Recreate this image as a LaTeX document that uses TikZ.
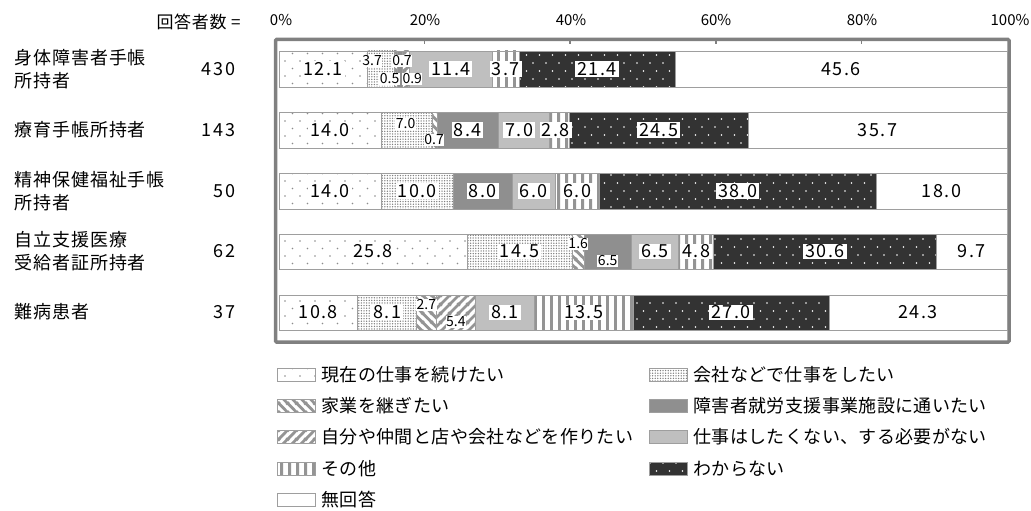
\documentclass[tikz,border=0pt]{standalone}
\usepackage{fontspec}
\setmainfont{Noto Sans CJK JP}
\usetikzlibrary{patterns}

\pgfdeclarepatternformonly{sparsedots}{\pgfqpoint{-1pt}{-1pt}}{\pgfqpoint{9pt}{9pt}}{\pgfqpoint{15pt}{15pt}}{%
  \pgfpathcircle{\pgfqpoint{0pt}{0pt}}{0.8pt}%
  \pgfpathcircle{\pgfqpoint{7.5pt}{7.5pt}}{0.8pt}%
  \pgfusepath{fill}}
\pgfdeclarepatternformonly{darkdots}{\pgfqpoint{-1pt}{-1pt}}{\pgfqpoint{8pt}{9pt}}{\pgfqpoint{13pt}{16pt}}{%
  \pgfpathcircle{\pgfqpoint{0pt}{0pt}}{0.9pt}%
  \pgfpathcircle{\pgfqpoint{6.5pt}{8pt}}{0.9pt}%
  \pgfusepath{fill}}
\pgfdeclarepatternformonly{finedots}{\pgfqpoint{-1pt}{-1pt}}{\pgfqpoint{1pt}{1pt}}{\pgfqpoint{2.6pt}{2.6pt}}{%
  \pgfpathcircle{\pgfqpoint{0pt}{0pt}}{0.75pt}%
  \pgfusepath{fill}}
\pgfdeclarepatternformonly{backstripes}{\pgfqpoint{0pt}{0pt}}{\pgfqpoint{9pt}{9pt}}{\pgfqpoint{9pt}{9pt}}{%
  \pgfsetlinewidth{3pt}%
  \pgfpathmoveto{\pgfqpoint{-1pt}{1pt}}\pgfpathlineto{\pgfqpoint{1pt}{-1pt}}%
  \pgfpathmoveto{\pgfqpoint{-1pt}{10pt}}\pgfpathlineto{\pgfqpoint{10pt}{-1pt}}%
  \pgfpathmoveto{\pgfqpoint{8pt}{10pt}}\pgfpathlineto{\pgfqpoint{10pt}{8pt}}%
  \pgfusepath{stroke}}
\pgfdeclarepatternformonly{slashstripes}{\pgfqpoint{0pt}{0pt}}{\pgfqpoint{9pt}{9pt}}{\pgfqpoint{9pt}{9pt}}{%
  \pgfsetlinewidth{3pt}%
  \pgfpathmoveto{\pgfqpoint{-1pt}{-1pt}}\pgfpathlineto{\pgfqpoint{10pt}{10pt}}%
  \pgfpathmoveto{\pgfqpoint{-1pt}{8pt}}\pgfpathlineto{\pgfqpoint{1pt}{10pt}}%
  \pgfpathmoveto{\pgfqpoint{8pt}{-1pt}}\pgfpathlineto{\pgfqpoint{10pt}{1pt}}%
  \pgfusepath{stroke}}
\pgfdeclarepatternformonly{vstripes}{\pgfqpoint{0pt}{0pt}}{\pgfqpoint{7.5pt}{7.5pt}}{\pgfqpoint{7.5pt}{7.5pt}}{%
  \pgfsetlinewidth{3pt}%
  \pgfpathmoveto{\pgfqpoint{3.75pt}{-1pt}}\pgfpathlineto{\pgfqpoint{3.75pt}{8.5pt}}%
  \pgfusepath{stroke}}

\tikzset{
  seg/.style={draw=black!38, line width=0.6pt},
  keep/.style={seg, preaction={fill=white}, pattern=sparsedots, pattern color=black!45},
  firm/.style={seg, preaction={fill=white}, pattern=finedots, pattern color=black!50},
  family/.style={seg, preaction={fill=white}, pattern=backstripes, pattern color=black!42},
  support/.style={seg, fill=black!44},
  ownshop/.style={seg, preaction={fill=white}, pattern=slashstripes, pattern color=black!42},
  nowork/.style={seg, fill=black!25},
  other/.style={seg, preaction={fill=white}, pattern=vstripes, pattern color=black!42},
  unsure/.style={seg, preaction={fill=black!80}, pattern=darkdots, pattern color=white},
  noans/.style={seg, fill=white},
  val/.style={fill=white, inner xsep=2pt, inner ysep=1pt, font=\fontsize{18}{18}\selectfont\addfontfeature{LetterSpace=8}},
  small/.style={fill=white, inner sep=0.5pt, font=\fontsize{14}{14}\selectfont},
  rowlbl/.style={anchor=west, align=left, font=\fontsize{18}{23}\selectfont\addfontfeature{LetterSpace=5}},
  cnt/.style={anchor=east, font=\fontsize{18}{18}\selectfont\addfontfeature{LetterSpace=10}},
  pct/.style={font=\fontsize{15}{15}\selectfont},
  legtxt/.style={anchor=west, font=\fontsize{18}{18}\selectfont\addfontfeature{LetterSpace=2}},
}

\begin{document}
\begin{tikzpicture}[x=1pt, y=-1pt]
	%%%%% START %%%%%
	\useasboundingbox (0,0) rectangle (1031,511);
	
	\node[anchor=east, font=\fontsize{17}{17}\selectfont\addfontfeature{LetterSpace=4}] (head) at (244,22) {回答者数 =};
	\node[pct] (p0) at (281,20) {0\%};
	\node[pct] (p20) at (425,20) {20\%};
	\node[pct] (p40) at (571,20) {40\%};
	\node[pct] (p60) at (716,20) {60\%};
	\node[pct] (p80) at (862,20) {80\%};
	\node[pct] (p100) at (1010,20) {100\%};
	
	\node[rowlbl] (r1) at (11,69) {身体障害者手帳\\所持者};
	\node[rowlbl] (r2) at (11,130) {療育手帳所持者};
	\node[rowlbl] (r3) at (11,191) {精神保健福祉手帳\\所持者};
	\node[rowlbl] (r4) at (11,251) {自立支援医療\\受給者証所持者};
	\node[rowlbl] (r5) at (11,312) {難病患者};
	\node[cnt] (n1) at (239,69) {430};
	\node[cnt] (n2) at (239,130) {143};
	\node[cnt] (n3) at (239,191) {50};
	\node[cnt] (n4) at (239,251) {62};
	\node[cnt] (n5) at (239,312) {37};
	
	\draw[line width=3.5pt, color=black!50, rounded corners=1pt] (275.5,39.5) rectangle (1009,342);
	\draw[line width=1.5pt, color=black!50] (424.6,41) -- (424.6,44);
	\draw[line width=1.5pt, color=black!50] (570.2,41) -- (570.2,44);
	\draw[line width=1.5pt, color=black!50] (715.8,41) -- (715.8,44);
	\draw[line width=1.5pt, color=black!50] (861.4,41) -- (861.4,44);
	
	\begin{scope}[xshift=279pt, x=7.28pt]
		% 身体障害者手帳所持者
		\draw[keep] (0,51) rectangle (12.1,87);
		\draw[firm] (12.1,51) rectangle (15.8,87);
		\draw[family] (15.8,51) rectangle (16.3,87);
		\draw[support] (16.3,51) rectangle (17.0,87);
		\draw[ownshop] (17.0,51) rectangle (17.9,87);
		\draw[nowork] (17.9,51) rectangle (29.3,87);
		\draw[other] (29.3,51) rectangle (33.0,87);
		\draw[unsure] (33.0,51) rectangle (54.4,87);
		\draw[noans] (54.4,51) rectangle (100,87);
		\node[val] (v11) at (6.05,69) {12.1};
		\node[small] (v12) at (12.8,61) {3.7};
		\node[small] (v13) at (15.2,79) {0.5};
		\node[small] (v14) at (16.9,61) {0.7};
		\node[small] (v15) at (18.3,79) {0.9};
		\node[val] (v16) at (23.6,69) {11.4};
		\node[val] (v17) at (31.15,69) {3.7};
		\node[val] (v18) at (43.7,69) {21.4};
		\node[val] (v19) at (77.2,69) {45.6};
		
		% 療育手帳所持者
		\draw[keep] (0,112) rectangle (14.0,148);
		\draw[firm] (14.0,112) rectangle (21.0,148);
		\draw[family] (21.0,112) rectangle (21.7,148);
		\draw[support] (21.7,112) rectangle (30.1,148);
		\draw[nowork] (30.1,112) rectangle (37.1,148);
		\draw[other] (37.1,112) rectangle (39.9,148);
		\draw[unsure] (39.9,112) rectangle (64.4,148);
		\draw[noans] (64.4,112) rectangle (100,148);
		\node[val] (v21) at (7,130) {14.0};
		\node[small] (v22) at (17.4,124) {7.0};
		\node[small] (v23) at (21.3,140) {0.7};
		\node[val] (v24) at (25.9,130) {8.4};
		\node[val] (v26) at (33.0,130) {7.0};
		\node[val] (v27) at (38.0,130) {2.8};
		\node[val] (v28) at (52.15,130) {24.5};
		\node[val] (v29) at (82.2,130) {35.7};
		
		% 精神保健福祉手帳所持者
		\draw[keep] (0,173) rectangle (14,209);
		\draw[firm] (14,173) rectangle (24,209);
		\draw[support] (24,173) rectangle (32,209);
		\draw[nowork] (32,173) rectangle (38,209);
		\draw[other] (38,173) rectangle (44,209);
		\draw[unsure] (44,173) rectangle (82,209);
		\draw[noans] (82,173) rectangle (100,209);
		\node[val] (v31) at (7,191) {14.0};
		\node[val] (v32) at (19,191) {10.0};
		\node[val] (v34) at (28,191) {8.0};
		\node[val] (v36) at (35,191) {6.0};
		\node[val] (v37) at (41,191) {6.0};
		\node[val] (v38) at (63,191) {38.0};
		\node[val] (v39) at (91,191) {18.0};
		
		% 自立支援医療受給者証所持者
		\draw[keep] (0,234) rectangle (25.8,269);
		\draw[firm] (25.8,234) rectangle (40.3,269);
		\draw[family] (40.3,234) rectangle (41.9,269);
		\draw[support] (41.9,234) rectangle (48.4,269);
		\draw[nowork] (48.4,234) rectangle (54.9,269);
		\draw[other] (54.9,234) rectangle (59.7,269);
		\draw[unsure] (59.7,234) rectangle (90.3,269);
		\draw[noans] (90.3,234) rectangle (100,269);
		\node[val] (v41) at (12.9,251.5) {25.8};
		\node[val] (v42) at (33.05,251.5) {14.5};
		\node[small] (v43) at (41.1,244) {1.6};
		\node[small] (v44) at (45.15,261) {6.5};
		\node[val] (v46) at (51.65,251.5) {6.5};
		\node[val] (v47) at (57.3,251.5) {4.8};
		\node[val] (v48) at (75,251.5) {30.6};
		\node[val] (v49) at (95.15,251.5) {9.7};
		
		% 難病患者
		\draw[keep] (0,295) rectangle (10.8,330);
		\draw[firm] (10.8,295) rectangle (18.9,330);
		\draw[family] (18.9,295) rectangle (21.6,330);
		\draw[ownshop] (21.6,295) rectangle (27.0,330);
		\draw[nowork] (27.0,295) rectangle (35.1,330);
		\draw[other] (35.1,295) rectangle (48.6,330);
		\draw[unsure] (48.6,295) rectangle (75.6,330);
		\draw[noans] (75.6,295) rectangle (100,330);
		\node[val] (v51) at (5.4,312.5) {10.8};
		\node[val] (v52) at (14.85,312.5) {8.1};
		\node[small] (v53) at (20.25,305) {2.7};
		\node[small] (v55) at (24.3,322) {5.4};
		\node[val] (v56) at (31.05,312.5) {8.1};
		\node[val] (v57) at (41.85,312.5) {13.5};
		\node[val] (v58) at (62.1,312.5) {27.0};
		\node[val] (v59) at (87.8,312.5) {24.3};
	\end{scope}
	
	% legend
	\draw[keep] (277,368) rectangle (315,381);
	\node[legtxt] (l1) at (318,374.5) {現在の仕事を続けたい};
	\draw[family] (277,399) rectangle (315,412);
	\node[legtxt] (l3) at (318,405.5) {家業を継ぎたい};
	\draw[ownshop] (277,430.5) rectangle (315,443.5);
	\node[legtxt] (l5) at (318,437) {自分や仲間と店や会社などを作りたい};
	\draw[other] (277,462) rectangle (315,475);
	\node[legtxt] (l7) at (318,468.5) {その他};
	\draw[noans] (277,493.5) rectangle (315,506.5);
	\node[legtxt] (l9) at (318,500) {無回答};
	
	\draw[firm] (649,368) rectangle (687,381);
	\node[legtxt] (l2) at (690,374.5) {会社などで仕事をしたい};
	\draw[support] (649,399) rectangle (687,412);
	\node[legtxt] (l4) at (690,405.5) {障害者就労支援事業施設に通いたい};
	\draw[nowork] (649,430.5) rectangle (687,443.5);
	\node[legtxt] (l6) at (690,437) {仕事はしたくない、する必要がない};
	\draw[unsure] (649,462) rectangle (687,475);
	\node[legtxt] (l8) at (690,468.5) {わからない};
	
	%%%%% END %%%%%
\end{tikzpicture}
\end{document}
